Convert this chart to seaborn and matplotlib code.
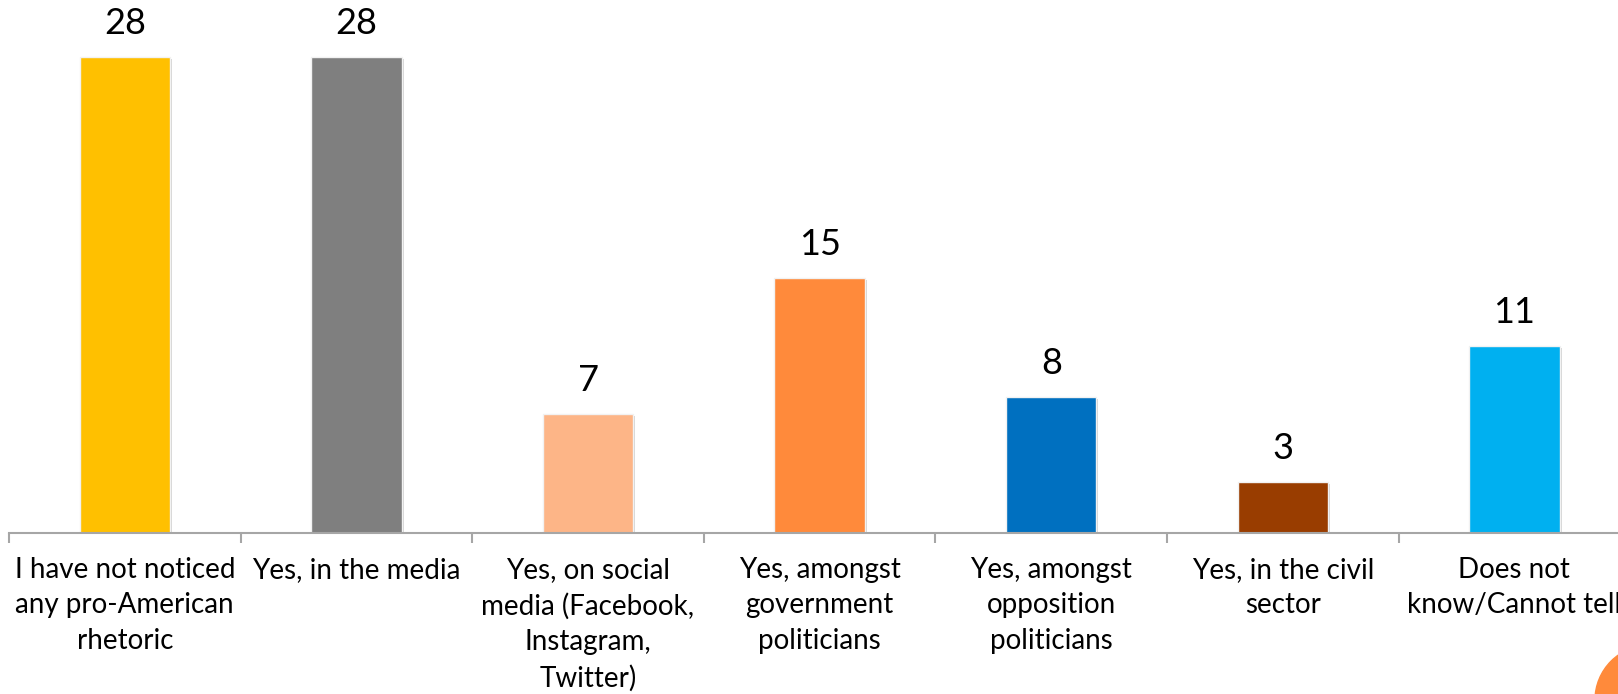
import matplotlib
matplotlib.use("Agg")
import matplotlib.pyplot as plt
import matplotlib.patheffects as pe
from matplotlib.patches import Ellipse
import seaborn as sns

# Data
categories = [
    "I have not noticed\nany pro-American\nrhetoric",
    "Yes, in the media",
    "Yes, on social\nmedia (Facebook,\nInstagram,\nTwitter)",
    "Yes, amongst\ngovernment\npoliticians",
    "Yes, amongst\nopposition\npoliticians",
    "Yes, in the civil\nsector",
    "Does not\nknow/Cannot tell",
]
values = [28, 28, 7, 15, 8, 3, 11]
colors = ["#FFC000", "#7F7F7F", "#FDB587", "#FF8A3B", "#0070C0", "#993D00", "#00B0F0"]

# --------------------------------------------------------
# Style
# --------------------------------------------------------
sns.set_style("white")
plt.rcParams["font.family"] = ["Lato", "DejaVu Sans"]

W, H = 1618, 694
fig = plt.figure(figsize=(W / 100, H / 100), dpi=100)

# axis baseline at y=533px, category step ~231.6px starting at x=9
step = 231.6
left = 9 / W
width = 7 * step / W
bottom = (H - 533) / H
height = 533 / H
ax = fig.add_axes([left, bottom, width, height])

sns.barplot(x=categories, y=values, hue=categories, palette=colors,
            legend=False, width=0.39, ax=ax, saturation=1)

for bar in ax.patches:
    bar.set_edgecolor("#F2F2F2")
    bar.set_linewidth(1.0)
    bar.set_path_effects([
        pe.SimplePatchShadow(offset=(1.5, -1.5), shadow_rgbFace="#A0A0A0", alpha=0.45),
        pe.Normal(),
    ])

# value labels
for i, v in enumerate(values):
    ax.text(i, v + 1.0, str(v), ha="center", va="bottom", fontsize=26, color="#000000")

ax.set_xlim(-0.5, 6.5)
ax.set_ylim(0, 533 / 17)

for s in ["top", "right", "left"]:
    ax.spines[s].set_visible(False)
ax.spines["bottom"].set_color("#A6A6A6")
ax.spines["bottom"].set_linewidth(1.5)

ax.set_yticks([])
ax.set_ylabel("")
ax.set_xlabel("")
ax.set_xticks(range(len(categories)))
ax.set_xticklabels(categories, linespacing=1.45, va="top")
ax.set_xticks([i - 0.5 for i in range(len(categories) + 1)], minor=True)
ax.tick_params(axis="x", which="both", bottom=True)
ax.tick_params(axis="x", which="major", length=0, pad=17, labelsize=20, labelcolor="#000000")
ax.tick_params(axis="x", which="minor", length=7, width=1.5, color="#A6A6A6", direction="out")

# decorative circle bottom-right
fig.patches.append(Ellipse((1650 / W, 1 - 700 / H), 110 / W, 110 / H,
                           transform=fig.transFigure, color="#FF8A3B", zorder=0))

fig.savefig("out.png", dpi=100)
